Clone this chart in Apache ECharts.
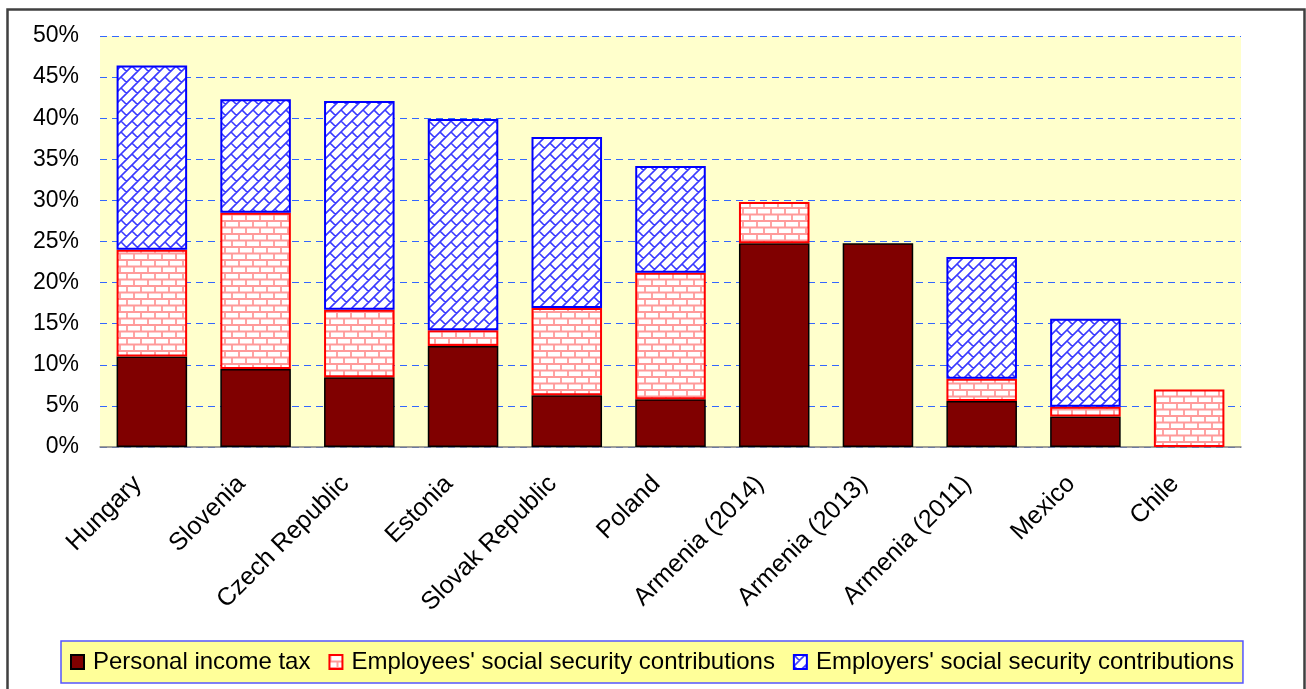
<!DOCTYPE html>
<html>
<head>
<meta charset="utf-8">
<script src="https://cdn.jsdelivr.net/npm/echarts@6/dist/echarts.min.js"></script>
<style>
html,body{margin:0;padding:0;background:#fff;}
#chart{width:1306px;height:689px;}
</style>
</head>
<body>
<div id="chart"></div>
<script>
var categories = ['Hungary','Slovenia','Czech Republic','Estonia','Slovak Republic','Poland','Armenia (2014)','Armenia (2013)','Armenia (2011)','Mexico','Chile'];
var personalIncomeTax = [11.0, 9.5, 8.5, 12.3, 6.3, 5.8, 24.8, 24.8, 5.6, 3.7, null];
var employeesSSC = [13.0, 19.0, 8.2, 1.9, 10.6, 15.4, 5.0, null, 2.7, 1.2, 7.0];
var employersSSC = [22.4, 13.8, 25.4, 25.7, 20.8, 13.0, null, null, 14.8, 10.7, null];
var yTicks = [0, 5, 10, 15, 20, 25, 30, 35, 40, 45, 50];
var seriesNames = ['Personal income tax', "Employees' social security contributions", "Employers' social security contributions"];

function brickPattern() {
  var W = 14, H = 13, h = H / 2;
  var c = document.createElement('canvas');
  c.width = W; c.height = H;
  var g = c.getContext('2d');
  g.fillStyle = '#ffffff';
  g.fillRect(0, 0, W, H);
  g.strokeStyle = '#ff9a9a';
  g.lineWidth = 1.8;
  g.beginPath();
  g.moveTo(0, h); g.lineTo(W, h);
  g.moveTo(0, H); g.lineTo(W, H);
  g.moveTo(0, 0); g.lineTo(W, 0);
  g.moveTo(1, 0); g.lineTo(1, h);
  g.moveTo(W / 2 + 1, h); g.lineTo(W / 2 + 1, H);
  g.stroke();
  return c;
}

function diagPattern() {
  var p = 11, T = 2 * p;
  var c = document.createElement('canvas');
  c.width = T; c.height = T;
  var g = c.getContext('2d');
  g.fillStyle = '#ffffff';
  g.fillRect(0, 0, T, T);
  g.strokeStyle = '#3a3aff';
  g.lineWidth = 1.6;
  g.beginPath();
  for (var k = -4; k <= 8; k++) {
    var cc = k * p;
    g.moveTo(cc - 50, 50); g.lineTo(cc + 50, -50);
  }
  for (var m = -3; m <= 6; m++) {
    var a = m * p;
    var off = (((m % 2) + 2) % 2) * p;
    for (var n = -3; n <= 4; n++) {
      var d = n * 2 * p + off;
      g.moveTo((a + d) / 2, (a - d) / 2);
      g.lineTo((a + p + d) / 2, (a + p - d) / 2);
    }
  }
  g.stroke();
  return c;
}

var font = 'Liberation Sans, Arial, sans-serif';
var chart = echarts.init(document.getElementById('chart'));
chart.setOption({
  animation: false,
  backgroundColor: '#ffffff',
  graphic: [{
    type: 'rect', left: 5, top: 7, z: 100, silent: true,
    shape: { width: 1297, height: 700 },
    style: { fill: 'none', stroke: '#404040', lineWidth: 2.5 }
  }],
  grid: {
    left: 100, right: 65, top: 36, bottom: 242,
    show: true, backgroundColor: '#FFFFCC', borderWidth: 0
  },
  legend: {
    left: 61, top: 641,
    padding: [9, 9, 9, 9],
    backgroundColor: '#FFFF99',
    borderColor: '#5555ff',
    borderWidth: 1.5,
    icon: 'rect',
    itemWidth: 13, itemHeight: 14,
    itemGap: 18,
    textStyle: { fontFamily: font, fontSize: 24, color: '#000', padding: [0, 0, 0, 4] },
    data: seriesNames
  },
  xAxis: {
    type: 'category',
    data: categories,
    axisLine: { lineStyle: { color: '#808080', width: 1.5 } },
    axisTick: { length: 7, lineStyle: { color: '#808080', width: 1.5 } },
    axisLabel: { rotate: 45, interval: 0, margin: 19, padding: [0, 20, 0, 0], fontFamily: font, fontSize: 25, color: '#000' }
  },
  yAxis: {
    type: 'value',
    min: yTicks[0], max: yTicks[yTicks.length - 1], interval: yTicks[1] - yTicks[0],
    axisLine: { show: false },
    axisTick: { show: false },
    axisLabel: { formatter: '{value}%', margin: 21, fontFamily: font, fontSize: 23, color: '#000' },
    splitLine: { lineStyle: { color: '#3366ff', type: [7, 5], width: 1 } }
  },
  series: [
    {
      name: seriesNames[0], type: 'bar', stack: 'total', barWidth: '68%',
      data: personalIncomeTax,
      itemStyle: { color: '#800000', borderColor: '#000000', borderWidth: 1.5 }
    },
    {
      name: seriesNames[1], type: 'bar', stack: 'total', barWidth: '68%',
      data: employeesSSC,
      itemStyle: { color: { image: brickPattern(), repeat: 'repeat' }, borderColor: '#ff0000', borderWidth: 2 }
    },
    {
      name: seriesNames[2], type: 'bar', stack: 'total', barWidth: '68%',
      data: employersSSC,
      itemStyle: { color: { image: diagPattern(), repeat: 'repeat' }, borderColor: '#0000ff', borderWidth: 2 }
    }
  ]
});
</script>
</body>
</html>
